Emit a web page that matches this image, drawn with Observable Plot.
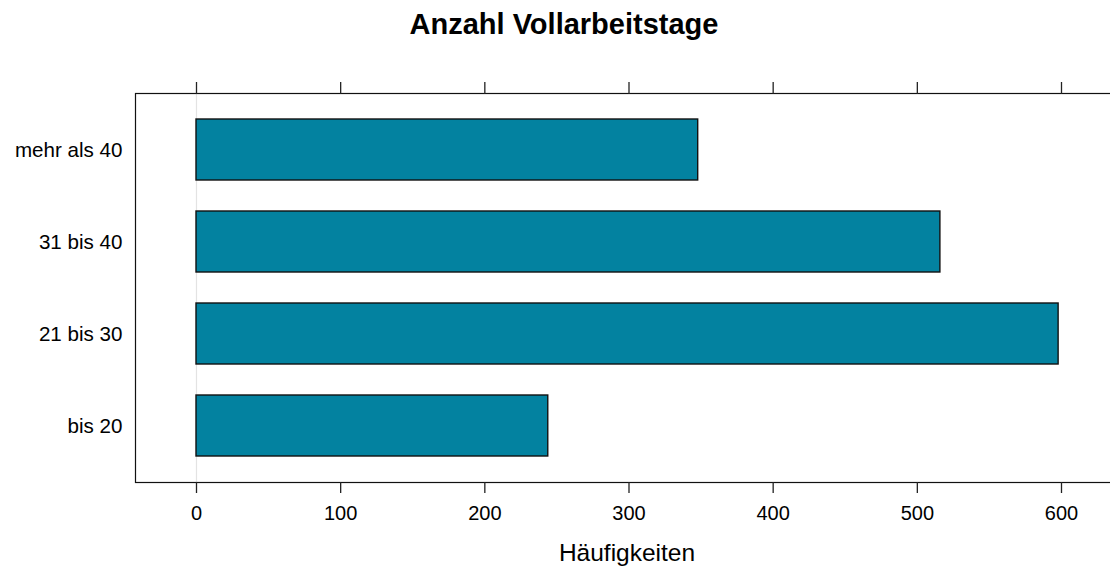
<!DOCTYPE html>
<html>
<head>
<meta charset="utf-8">
<script src="https://cdn.jsdelivr.net/npm/d3@7"></script>
<script src="https://cdn.jsdelivr.net/npm/@observablehq/plot@0.6"></script>
<style>
  html, body { margin: 0; padding: 0; background: #fff; }
  #wrap { width: 1110px; overflow: hidden; font-family: "Liberation Sans", Arial, sans-serif; }
  #title { height: 46px; line-height: 48px; text-align: center; padding-left: 18px; box-sizing: border-box;
           font-size: 29px; font-weight: bold; color: #000; width: 1110px; }
  #chart { width: 1110px; overflow: hidden; }
  #chart svg { display: block; max-width: none !important; width: 1120px !important; height: 525px !important; }
</style>
</head>
<body>
<div id="wrap">
  <div id="title">Anzahl Vollarbeitstage</div>
  <div id="chart"></div>
</div>
<script>
const categories = ["mehr als 40", "31 bis 40", "21 bis 30", "bis 20"];
const values = [348, 516, 598, 244];
const xTicks = [0, 100, 200, 300, 400, 500, 600];
const xLabel = "Häufigkeiten";

const data = categories.map((c, i) => ({cat: c, value: values[i]}));

const W = 1120, H = 525;
const chart = Plot.plot({
  width: W,
  height: H,
  marginTop: 47,
  marginBottom: 89,
  marginLeft: 135,
  marginRight: 2,
  style: {fontFamily: "Liberation Sans, Arial, sans-serif", color: "#000", background: "#fff", maxWidth: "none"},
  x: {domain: [0, 600], range: [196, 1061]},
  y: {type: "band", domain: categories, paddingInner: 1/3, paddingOuter: 0.2667},
  marks: [
    Plot.ruleX([0], {stroke: "#e3e3e3", strokeWidth: 1.2}),
    Plot.barX(data, {x: "value", y: "cat", fill: "#0382a0", stroke: "#111", strokeWidth: 1.4}),
    Plot.frame({stroke: "#111", strokeWidth: 1.2}),
    Plot.axisX({anchor: "bottom", ticks: xTicks, tickSize: 11, tickPadding: 12, fontSize: 20, label: null, stroke: "#222", strokeWidth: 1.3, strokeOpacity: 1}),
    Plot.axisX({anchor: "top", ticks: xTicks, tickSize: 12, tickFormat: () => "", label: null, stroke: "#222", strokeWidth: 1.3, strokeOpacity: 1}),
    Plot.axisY({anchor: "left", tickSize: 0, tickPadding: 13, fontSize: 20.6, label: null}),
    Plot.text([xLabel], {frameAnchor: "bottom", dy: 78, fontSize: 24.5, fill: "#000"})
  ]
});
document.getElementById("chart").appendChild(chart);
</script>
</body>
</html>
